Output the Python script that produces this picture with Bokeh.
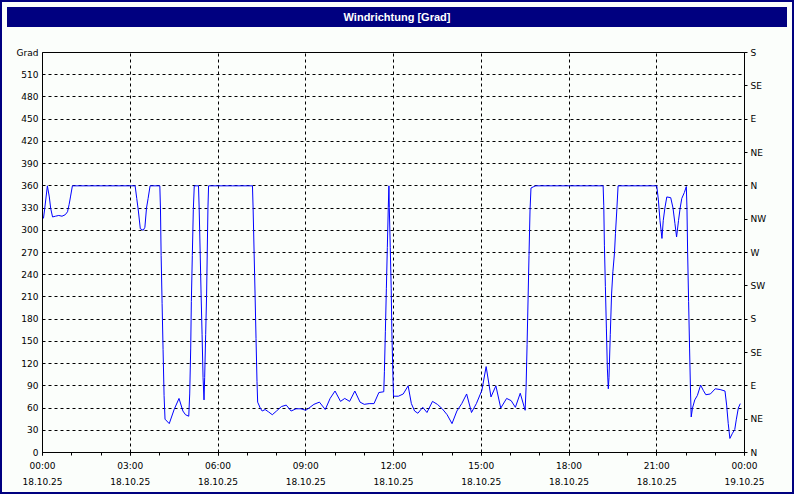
import pandas as pd
from bokeh.plotting import figure
from bokeh.models import (FixedTicker, LinearAxis, Range1d, DatetimeTickFormatter, Div)
from bokeh.layouts import column
from bokeh.embed import file_html
from bokeh.resources import INLINE

# ---- data ----
start_day = "2025-10-18"
hours = [0.033, 0.078, 0.167, 0.233, 0.278, 0.344, 0.444, 0.556, 0.667, 0.778, 0.856, 0.911, 0.956, 1.022,
         1.5, 2.0, 2.5, 3.0, 3.167, 3.222, 3.278, 3.344, 3.444, 3.5, 3.556, 3.611, 3.678, 4.011,
         4.033, 4.056, 4.089, 4.122, 4.156, 4.189, 4.333, 4.5, 4.667, 4.8, 4.889, 5.0,
         5.033, 5.067, 5.089, 5.122, 5.156, 5.189, 5.333, 5.356, 5.389, 5.422, 5.456, 5.489, 5.522,
         5.544, 5.578, 5.611, 5.633, 5.656, 5.678, 6.0, 6.5, 7.0, 7.178,
         7.2, 7.233, 7.267, 7.3, 7.333, 7.356, 7.444, 7.511, 7.611, 7.722, 7.856, 8.0, 8.167, 8.333,
         8.5, 8.667, 8.833, 9.0, 9.111, 9.278, 9.467, 9.667, 9.833, 10.0, 10.189, 10.333, 10.5,
         10.678, 10.856, 11.0, 11.167, 11.333, 11.5, 11.667, 11.689, 11.722, 11.756, 11.789, 11.822,
         11.844, 11.856, 11.889, 11.922, 11.944, 11.978, 12.0, 12.167, 12.333, 12.5, 12.611, 12.722,
         12.833, 13.0, 13.144, 13.333, 13.5, 13.667, 13.833, 14.0, 14.167, 14.333, 14.5, 14.667,
         14.833, 15.022, 15.167, 15.333, 15.5, 15.667, 15.867, 16.022, 16.167, 16.333, 16.5,
         16.533, 16.567, 16.6, 16.633, 16.667, 16.7, 16.8, 16.867, 18.0, 19.167,
         19.189, 19.211, 19.244, 19.278, 19.311, 19.344, 19.367, 19.411, 19.456, 19.5, 19.556,
         19.589, 19.633, 19.678, 21.0, 21.056, 21.111, 21.178, 21.222, 21.278, 21.344, 21.478,
         21.556, 21.622, 21.678, 21.744, 21.8, 21.856, 21.944, 22.011, 22.033, 22.056, 22.089,
         22.122, 22.156, 22.178, 22.222, 22.3, 22.389, 22.5, 22.589, 22.678, 22.833, 23.0, 23.167,
         23.333, 23.389, 23.444, 23.5, 23.589, 23.667, 23.722, 23.789, 23.856]
direction = [316, 330, 360, 345, 330, 318, 319, 320, 319, 321, 325, 335, 345, 360,
             360, 360, 360, 360, 360, 343, 326, 302, 300, 304, 330, 343, 360, 360,
             330, 266, 201, 139, 77, 45, 39, 58, 73, 56, 51, 49,
             79, 141, 204, 266, 328, 360, 360, 330, 272, 214, 159, 101, 71,
             101, 159, 214, 272, 330, 360, 360, 360, 360, 360,
             330, 272, 214, 154, 96, 68, 60, 56, 58, 55, 51, 56, 62, 64,
             56, 59, 59, 57, 60, 65, 68, 58, 73, 83, 69, 73, 69,
             83, 68, 65, 66, 66, 81, 82, 109, 163, 221, 277, 331,
             360, 331, 277, 221, 163, 107, 76, 76, 79, 90, 66, 56,
             53, 61, 54, 69, 65, 59, 51, 39, 56, 66, 79, 54,
             66, 84, 116, 75, 90, 60, 73, 70, 61, 80, 57,
             88, 146, 206, 266, 326, 357, 359, 360, 360, 360,
             333, 279, 224, 168, 114, 86, 101, 159, 214, 244, 270,
             296, 326, 360, 360, 341, 313, 289, 313, 330, 345, 344,
             330, 309, 291, 313, 330, 343, 351, 359, 330, 270, 204,
             141, 79, 48, 60, 71, 77, 91, 84, 78, 79, 86, 85,
             83, 64, 39, 19, 26, 31, 45, 60, 66]
left_ticks = list(range(0, 541, 30))
right_ticks = list(range(0, 541, 45))
compass = ["N", "NE", "E", "SE", "S", "SW", "W", "NW", "N", "NE", "E", "SE", "S"]
title_text = "Windrichtung [Grad]"
unit_label = "Grad"

t0 = pd.Timestamp(start_day)
times = [t0 + pd.Timedelta(hours=h) for h in hours]
t0_ms = int(t0.value // 10**6)
HOUR = 3600 * 1000

FONT = "DejaVu Sans"
FS = "9px"
BG = "#FBFEFB"
NAVY = "#000080"

p = figure(width=780, height=460, x_axis_type="datetime",
           x_range=(t0, t0 + pd.Timedelta(hours=24)), y_range=Range1d(0, 540),
           output_backend="svg", toolbar_location=None,
           min_border_left=40, min_border_right=38, min_border_top=20, min_border_bottom=40,
           background_fill_color=BG, border_fill_color=BG)
p.outline_line_color = "black"
p.outline_line_width = 1

p.line(times, direction, line_color="#0000FF", line_width=1)

# x axis
xa = p.xaxis[0]
xa.ticker = FixedTicker(ticks=[t0_ms + k * 3 * HOUR for k in range(9)],
                        minor_ticks=[t0_ms + k * HOUR for k in range(25)])
fmt = "%H:%M\n%d.%m.%y"
xa.formatter = DatetimeTickFormatter(milliseconds=fmt, seconds=fmt, minsec=fmt, minutes=fmt,
                                     hourmin=fmt, hours=fmt, days=fmt, months=fmt, years=fmt)
xa.major_tick_in = 0
xa.major_tick_out = 3
xa.minor_tick_in = 0
xa.minor_tick_out = 3
xa.major_label_standoff = 5
xa.major_label_text_line_height = 1.6

# left axis
ya = p.yaxis[0]
ya.ticker = FixedTicker(ticks=left_ticks)
ya.major_label_overrides = {540: unit_label}
ya.major_tick_in = 0
ya.major_tick_out = 0
ya.minor_tick_line_color = None
ya.major_label_standoff = 4

# right axis
p.extra_y_ranges = {"compass": Range1d(0, 540)}
ra = LinearAxis(y_range_name="compass", ticker=FixedTicker(ticks=right_ticks),
                major_label_overrides={t: c for t, c in zip(right_ticks, compass)})
ra.major_tick_in = 0
ra.major_tick_out = 3
ra.minor_tick_line_color = None
ra.major_label_standoff = 3
p.add_layout(ra, "right")

for ax in (xa, ya, ra):
    ax.axis_line_color = "black"
    ax.major_tick_line_color = "black"
    ax.major_label_text_font = FONT
    ax.major_label_text_font_size = FS
    ax.major_label_text_color = "black"
xa.minor_tick_line_color = "black"

# grids
p.xgrid.ticker = FixedTicker(ticks=[t0_ms + k * 3 * HOUR for k in range(9)])
p.ygrid.ticker = FixedTicker(ticks=left_ticks)
for g in (p.xgrid[0], p.ygrid[0]):
    g.grid_line_color = "black"
    g.grid_line_dash = "3 3"
    g.grid_line_width = 1

title_bar = Div(text=title_text, width=780, height=20,
                styles={"background-color": NAVY, "color": "#ffffff", "font-weight": "bold",
                        "font-family": "Liberation Sans, sans-serif", "font-size": "11px",
                        "text-align": "center", "line-height": "20px"})

layout = column(title_bar, p, styles={"border": "2px solid " + NAVY, "background-color": BG})

open("out.html", "w").write(file_html(layout, INLINE))
